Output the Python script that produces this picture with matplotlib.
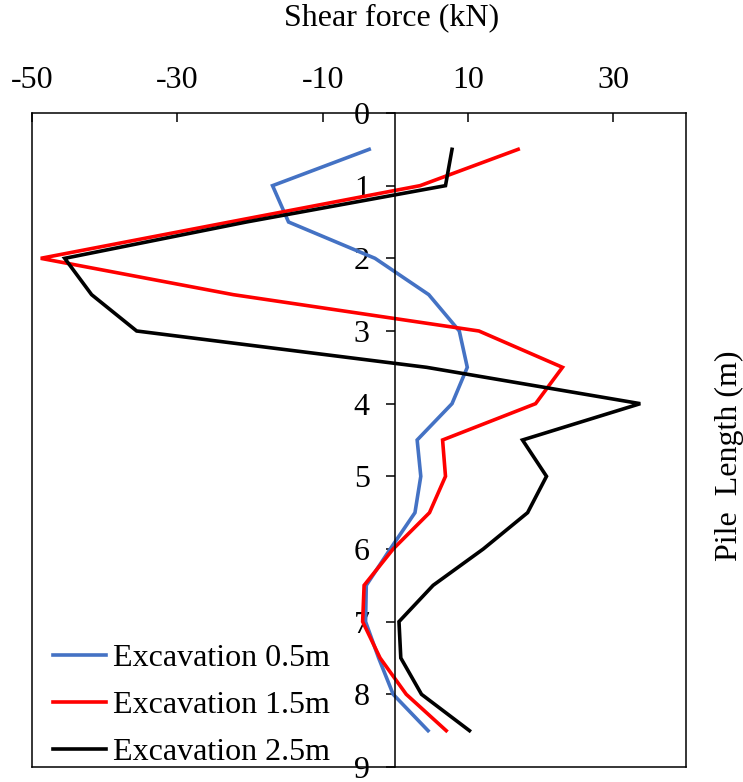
import matplotlib
matplotlib.use('Agg')
import matplotlib.pyplot as plt

depth = [0.5, 1.0, 1.5, 2.0, 2.5, 3.0, 3.5, 4.0, 4.5, 5.0, 5.5, 6.0, 6.5, 7.0, 7.5, 8.0, 8.5]
shear_05 = [-3.6, -16.9, -14.7, -2.8, 4.6, 8.8, 9.9, 7.8, 3.0, 3.5, 2.7, -0.7, -4.0, -4.1, -2.3, -0.3, 4.5]
shear_15 = [16.9, 3.4, -22.8, -48.8, -22.3, 11.5, 23.0, 19.3, 6.5, 6.9, 4.7, -0.3, -4.3, -4.5, -2.1, 1.5, 7.0]
shear_25 = [7.8, 6.9, -20.5, -45.5, -41.8, -35.6, 4.3, 33.7, 17.5, 20.8, 18.2, 12.1, 5.2, 0.5, 0.75, 3.6, 10.2]
labels = ['Excavation 0.5m', 'Excavation 1.5m', 'Excavation 2.5m']
colors = ['#4472C4', '#FF0000', '#000000']
x_ticks = [-50, -30, -10, 10, 30]
y_ticks = [0, 1, 2, 3, 4, 5, 6, 7, 8, 9]

plt.rcParams['font.family'] = ['Liberation Serif', 'DejaVu Serif']
plt.rcParams['axes.unicode_minus'] = False
FS = 23

fig = plt.figure(figsize=(7.43, 7.82), dpi=100)
ax = fig.add_axes([0.0431, 0.0192, 0.8802, 0.8363])

for s, lab, c in zip([shear_05, shear_15, shear_25], labels, colors):
    ax.plot(s, depth, color=c, lw=2.6, label=lab, solid_joinstyle='miter')

ax.set_xlim(-50, 40)
ax.set_ylim(9, 0)
ax.set_xticks(x_ticks)
ax.set_yticks(y_ticks)

for sp in ax.spines.values():
    sp.set_linewidth(1.1)
ax.spines['left'].set_position(('data', 0))
ax.axvline(-50, color='black', lw=1.1, clip_on=False)

ax.xaxis.tick_top()
ax.tick_params(axis='x', direction='in', length=6.7, width=1.1, pad=13, labelsize=FS)
ax.yaxis.set_ticks_position('left')
ax.tick_params(axis='y', direction='out', length=6.5, width=1.1, pad=12, labelsize=FS)

ax.set_xlabel('Shear force (kN)', fontsize=FS)
ax.xaxis.set_label_position('top')
ax.xaxis.set_label_coords(0.549, 1.146)
ax.xaxis.label.set_verticalalignment('center')

ax.set_ylabel('Pile  Length (m)', fontsize=FS, rotation=90)
ax.yaxis.set_label_coords(1.067, 0.4755)
ax.yaxis.label.set_verticalalignment('center')
ax.yaxis.label.set_horizontalalignment('center')

ax.legend(loc='lower left', bbox_to_anchor=(0.032, 0.0), frameon=False, fontsize=FS,
          handlelength=1.65, handletextpad=0.22, labelspacing=0.55, borderpad=0.0,
          borderaxespad=0.0)

fig.savefig('out.png', dpi=100)
